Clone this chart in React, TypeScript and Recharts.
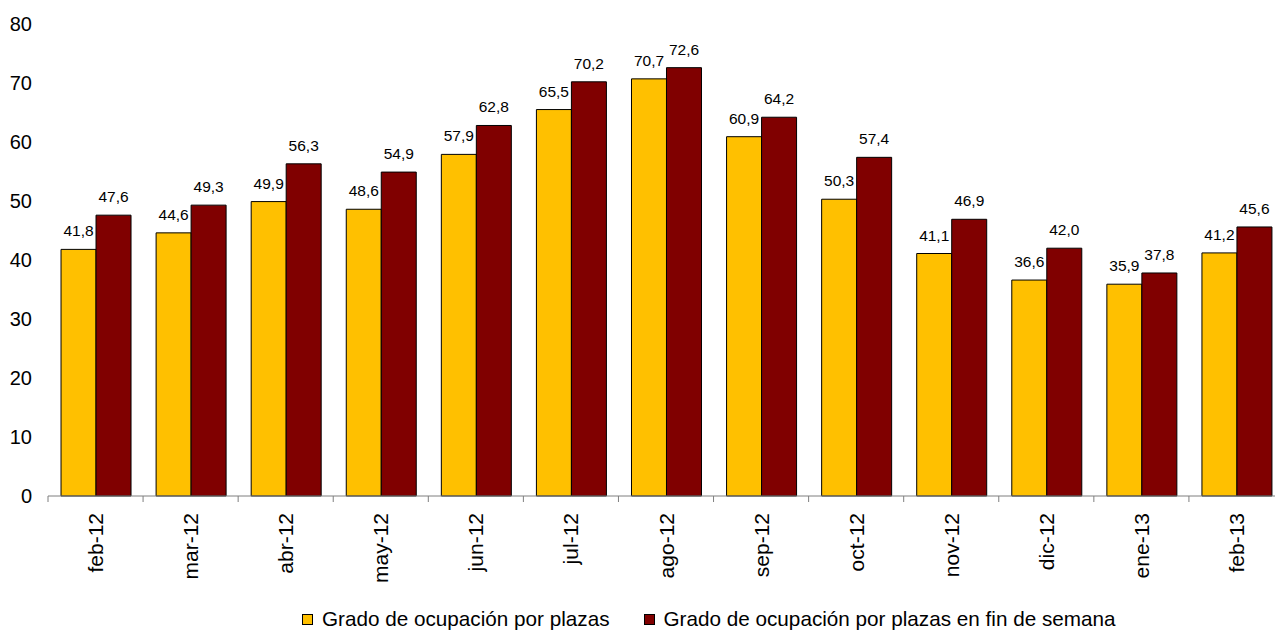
import { Bar, BarChart, LabelList, Legend, XAxis, YAxis } from "recharts";

const months = [
  "feb-12",
  "mar-12",
  "abr-12",
  "may-12",
  "jun-12",
  "jul-12",
  "ago-12",
  "sep-12",
  "oct-12",
  "nov-12",
  "dic-12",
  "ene-13",
  "feb-13",
];
const plazas = [41.8, 44.6, 49.9, 48.6, 57.9, 65.5, 70.7, 60.9, 50.3, 41.1, 36.6, 35.9, 41.2];
const plazasFinSemana = [47.6, 49.3, 56.3, 54.9, 62.8, 70.2, 72.6, 64.2, 57.4, 46.9, 42.0, 37.8, 45.6];
const yTicks = [0, 10, 20, 30, 40, 50, 60, 70, 80];

const seriesNames = [
  "Grado de ocupación por plazas",
  "Grado de ocupación por plazas en fin de semana",
];
const seriesColors = ["#FFC000", "#800000"];

const data = months.map((m, i) => ({
  month: m,
  plazas: plazas[i],
  finSemana: plazasFinSemana[i],
}));

const FONT = "'Liberation Sans', Arial, sans-serif";
const fmt = (v: any) => Number(v).toFixed(1).replace(".", ",");

// label at the band centre, tick marks at the band edges like the original
const MonthTick = (props: any) => {
  const { x, y, payload, width, visibleTicksCount } = props;
  const half = visibleTicksCount ? width / visibleTicksCount / 2 : 47;
  const axisY = y - 10;
  return (
    <g>
      <line x1={x - half} x2={x - half} y1={axisY} y2={axisY + 6} stroke="#7f7f7f" />
      {payload.index === months.length - 1 && (
        <line x1={x + half} x2={x + half} y1={axisY} y2={axisY + 6} stroke="#7f7f7f" />
      )}
      <text
        transform={`translate(${x},${axisY + 17}) rotate(-90)`}
        textAnchor="end"
        dominantBaseline="central"
        fontSize={21}
        fill="#000"
        fontFamily={FONT}
      >
        {payload.value}
      </text>
    </g>
  );
};

const LegendBox = () => (
  <div
    style={{
      display: "flex",
      alignItems: "center",
      height: 24,
      paddingLeft: 302,
      fontFamily: FONT,
      fontSize: 20.7,
      color: "#000",
    }}
  >
    {seriesNames.map((name, i) => (
      <div key={name} style={{ display: "flex", alignItems: "center", marginRight: 34 }}>
        <span
          style={{
            display: "inline-block",
            width: 9,
            height: 9,
            background: seriesColors[i],
            border: "1px solid #000",
            marginRight: 9,
          }}
        />
        <span>{name}</span>
      </div>
    ))}
  </div>
);

export default function App() {
  return (
    <div
      style={{
        position: "fixed",
        left: 0,
        top: 0,
        width: 1275,
        height: 630,
        overflow: "hidden",
        background: "#fff",
      }}
    >
      <BarChart
        width={1292}
        height={630}
        data={data}
        margin={{ top: 24, right: 8, left: 0, bottom: 30 }}
        barCategoryGap="13.7%"
        barGap={0}
      >
        <XAxis
          dataKey="month"
          height={80}
          interval={0}
          tickLine={false}
          tickSize={6}
          tickMargin={4}
          axisLine={{ stroke: "#7f7f7f" }}
          tick={<MonthTick />}
        />
        <YAxis
          width={48}
          domain={[0, 80]}
          ticks={yTicks}
          axisLine={false}
          tickLine={false}
          tickSize={6}
          tickMargin={10}
          tick={{ fontSize: 20, fill: "#000", fontFamily: FONT }}
        />
        <Legend
          verticalAlign="bottom"
          content={<LegendBox />}
          wrapperStyle={{ top: 607, left: 0, width: 1275 }}
        />
        <Bar
          dataKey="plazas"
          name={seriesNames[0]}
          fill={seriesColors[0]}
          stroke="#000"
          strokeWidth={1}
          isAnimationActive={false}
        >
          <LabelList
            dataKey="plazas"
            position="top"
            offset={13}
            formatter={fmt}
            style={{ fontSize: 15.5, fill: "#000", fontFamily: FONT }}
          />
        </Bar>
        <Bar
          dataKey="finSemana"
          name={seriesNames[1]}
          fill={seriesColors[1]}
          stroke="#000"
          strokeWidth={1}
          isAnimationActive={false}
        >
          <LabelList
            dataKey="finSemana"
            position="top"
            offset={13}
            formatter={fmt}
            style={{ fontSize: 15.5, fill: "#000", fontFamily: FONT }}
          />
        </Bar>
      </BarChart>
    </div>
  );
}
